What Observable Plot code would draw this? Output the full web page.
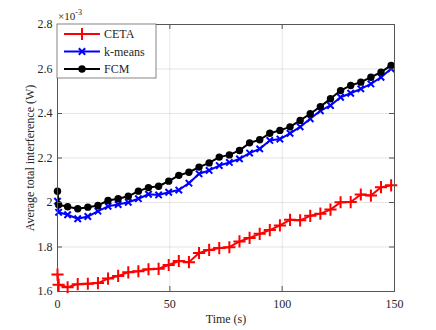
<!DOCTYPE html>
<html><head><meta charset="utf-8">
<script src="https://cdn.jsdelivr.net/npm/d3@7"></script>
<script src="https://cdn.jsdelivr.net/npm/@observablehq/plot@0.6"></script>
<style>
body{margin:0;background:#fff;}
svg{font-family:"Liberation Serif","Times New Roman",serif;}
</style>
</head><body><div id="chart"></div>
<script>
const time = [0, 0.5, 4.5, 9, 13.5, 18, 22.5, 27, 31.5, 36, 40.5, 45, 49.5, 54, 58.5, 63, 67.5, 72, 76.5, 81, 85.5, 90, 94.5, 99, 103.5, 108, 112.5, 117, 121.5, 126, 130.5, 135, 139.5, 144, 148.5];
const ceta = [1.676, 1.630, 1.619, 1.633, 1.635, 1.638, 1.658, 1.670, 1.686, 1.691, 1.700, 1.702, 1.719, 1.737, 1.732, 1.773, 1.787, 1.795, 1.799, 1.825, 1.841, 1.859, 1.876, 1.897, 1.922, 1.920, 1.940, 1.950, 1.968, 2.001, 2.002, 2.036, 2.031, 2.069, 2.077];
const kmeans = [2.006, 1.956, 1.945, 1.927, 1.937, 1.961, 1.983, 1.991, 2.001, 2.017, 2.037, 2.034, 2.046, 2.056, 2.087, 2.129, 2.144, 2.166, 2.180, 2.196, 2.222, 2.241, 2.279, 2.285, 2.311, 2.340, 2.376, 2.412, 2.436, 2.473, 2.491, 2.511, 2.533, 2.563, 2.601];
const fcm = [2.051, 1.990, 1.981, 1.972, 1.979, 1.987, 2.009, 2.017, 2.028, 2.051, 2.067, 2.073, 2.096, 2.122, 2.136, 2.159, 2.178, 2.204, 2.214, 2.234, 2.268, 2.282, 2.311, 2.324, 2.340, 2.369, 2.399, 2.431, 2.466, 2.503, 2.526, 2.541, 2.563, 2.586, 2.616];
const seriesNames = ["CETA", "k-means", "FCM"];
const seriesColors = ["#ff0000", "#0000ff", "#000000"];
const seriesSymbols = ["plus", "times", "circle"];
const xTicks = [0, 50, 100, 150];
const yTicks = [1.6, 1.8, 2, 2.2, 2.4, 2.6, 2.8];
const xLabel = "Time (s)";
const yLabel = "Average total interference (W)";
const exponentBase = "\u00d710";
const exponentPower = "-3";

const W = 436, H = 330, mL = 57, mR = 42, mT = 24, mB = 39;
const pw = W - mL - mR, ph = H - mT - mB;
const axisColor = "#555";
const textColor = "#262626";

const sets = [ceta, kmeans, fcm].map(vals => time.map((t, i) => ({t, v: vals[i]})));
const symR = [4, 3, 3.7];

const marks = [
  Plot.gridX(xTicks, {stroke: "#000", strokeOpacity: 0.1}),
  Plot.gridY(yTicks, {stroke: "#000", strokeOpacity: 0.1}),
];
sets.forEach((d, i) => {
  marks.push(Plot.line(d, {x: "t", y: "v", stroke: seriesColors[i], strokeWidth: 2}));
  marks.push(Plot.dot(d, {x: "t", y: "v", symbol: seriesSymbols[i], r: symR[i],
    stroke: seriesColors[i], strokeWidth: seriesSymbols[i] === "circle" ? 0 : 2,
    fill: seriesSymbols[i] === "circle" ? seriesColors[i] : "none"}));
});
marks.push(
  Plot.frame({stroke: axisColor, strokeWidth: 1}),
  Plot.tickY(yTicks, {y: d => d, insetRight: pw - 5, stroke: axisColor}),
  Plot.tickY(yTicks, {y: d => d, insetLeft: pw - 5, stroke: axisColor}),
  Plot.tickX(xTicks, {x: d => d, insetTop: ph - 5, stroke: axisColor}),
  Plot.tickX(xTicks, {x: d => d, insetBottom: ph - 5, stroke: axisColor}),
  Plot.axisX({ticks: xTicks, tickSize: 0, tickPadding: 8, label: null, fontSize: 12, fill: textColor, tickFormat: d => String(d)}),
  Plot.axisY({ticks: yTicks, tickSize: 0, tickPadding: 5, label: null, fontSize: 12, fill: textColor, tickFormat: d => String(+d.toFixed(1))}),
  Plot.text([xLabel], {frameAnchor: "bottom", text: d => d, dy: 28, lineAnchor: "middle", textAnchor: "middle", fontSize: 12, fill: textColor}),
  Plot.text([yLabel], {frameAnchor: "left", text: d => d, rotate: -90, dx: -27, lineAnchor: "middle", textAnchor: "middle", fontSize: 12, fill: textColor})
);

const chart = Plot.plot({
  width: W, height: H,
  marginLeft: mL, marginRight: mR, marginTop: mT, marginBottom: mB,
  x: {domain: [0, 150]},
  y: {domain: [1.6, 2.8]},
  style: {fontFamily: "'Liberation Serif', 'Times New Roman', serif", background: "#fff"},
  marks
});
document.getElementById("chart").appendChild(chart);

// exponent label and legend
const svg = d3.select(chart);
const ex = svg.append("text").attr("x", mL + 1).attr("y", mT - 4).attr("font-size", 11)
  .attr("text-anchor", "start").attr("fill", textColor);
ex.append("tspan").text(exponentBase);
ex.append("tspan").attr("dy", -5).attr("font-size", 8).text(exponentPower);

const lg = svg.append("g").attr("transform", `translate(${mL},${mT})`).attr("text-anchor", "start");
lg.append("rect").attr("x", 0).attr("y", 0).attr("width", 99).attr("height", 54)
  .attr("fill", "#fff").attr("stroke", "#666").attr("stroke-width", 0.8);
const symMap = {plus: d3.symbolPlus, times: d3.symbolTimes, circle: d3.symbolCircle};
seriesNames.forEach((name, i) => {
  const y = 10 + i * 17.5;
  lg.append("line").attr("x1", 7).attr("x2", 43).attr("y1", y).attr("y2", y)
    .attr("stroke", seriesColors[i]).attr("stroke-width", 2);
  const isC = seriesSymbols[i] === "circle";
  lg.append("path").attr("transform", `translate(25,${y})`)
    .attr("d", d3.symbol(symMap[seriesSymbols[i]], Math.PI * symR[i] * symR[i])())
    .attr("fill", isC ? seriesColors[i] : "none")
    .attr("stroke", isC ? "none" : seriesColors[i]).attr("stroke-width", 2);
  lg.append("text").attr("x", 47).attr("y", y).attr("dy", "0.35em")
    .attr("text-anchor", "start").attr("font-size", 12).attr("fill", textColor).text(name);
});
</script>
</body></html>
